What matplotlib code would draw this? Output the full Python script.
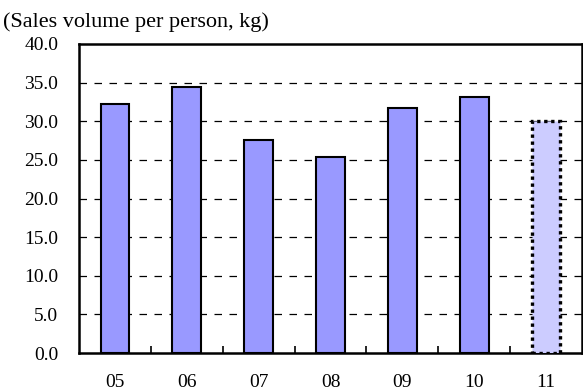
import matplotlib
matplotlib.use("Agg")
import matplotlib.pyplot as plt
import numpy as np

years = ["05", "06", "07", "08", "09", "10", "11"]
values = [32.2, 34.4, 27.6, 25.4, 31.7, 33.1, 30.0]
yticks = [0, 5, 10, 15, 20, 25, 30, 35, 40]

plt.rcParams['font.family'] = ['Liberation Serif', 'DejaVu Serif']

fig = plt.figure(figsize=(5.83, 3.92), dpi=100)
ax = fig.add_axes([79/583, 1-353/392, (582-79)/583, (353-44)/392])

x = np.arange(len(years))
for i, (xi, v) in enumerate(zip(x, values)):
    if i == len(years) - 1:
        ax.bar(xi, v, width=0.4, color="#ccccff", edgecolor="black",
               linewidth=2.4, linestyle=(0, (1, 1.1)), zorder=3)
    else:
        ax.bar(xi, v, width=0.4, color="#9999ff", edgecolor="black",
               linewidth=1.5, zorder=3)

ax.set_xlim(-0.5, len(years) - 0.5)
ax.set_ylim(0, 40)
ax.set_yticks(yticks)
ax.set_yticklabels([f"{t:.1f}" for t in yticks], fontsize=14)
for t in yticks[1:-1]:
    ax.axhline(t, color="black", linestyle=(0, (6, 6)), linewidth=0.9, zorder=1)

ax.set_xticks(x)
ax.set_xticklabels(years, fontsize=14)
ax.tick_params(axis='x', length=0, pad=15)
ax.tick_params(axis='y', length=0, pad=15)
ax.set_xticks(np.arange(0.5, len(years) - 1, 1), minor=True)
ax.tick_params(axis='x', which='minor', direction='in', length=5, width=1.2)

for s in ax.spines.values():
    s.set_linewidth(1.8)
    s.set_color("black")

fig.text(3/583, 1-22/392, "(Sales volume per person, kg)", fontsize=16, va='center')

fig.savefig("out.png", dpi=100)
